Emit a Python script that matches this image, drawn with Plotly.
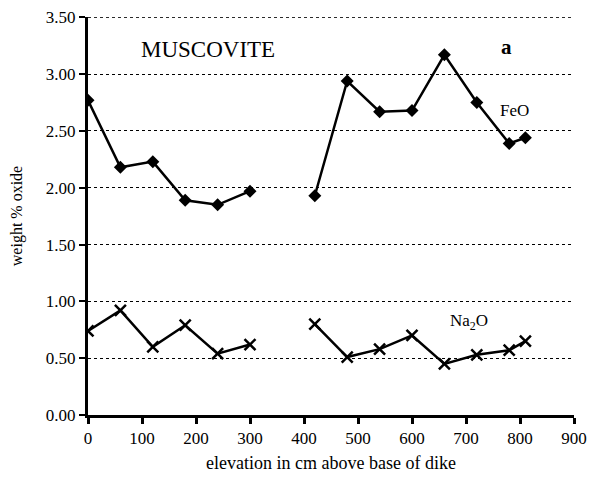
import plotly.graph_objects as go

elevation = [0, 60, 120, 180, 240, 300, None, 420, 480, 540, 600, 660, 720, 780, 810]
feo = [2.77, 2.18, 2.23, 1.89, 1.85, 1.97, None, 1.93, 2.94, 2.67, 2.68, 3.17, 2.75, 2.39, 2.44]
na2o = [0.74, 0.92, 0.60, 0.79, 0.54, 0.62, None, 0.80, 0.51, 0.58, 0.70, 0.45, 0.53, 0.57, 0.65]
x_ticks = [0, 100, 200, 300, 400, 500, 600, 700, 800, 900]
y_ticks = [0.0, 0.5, 1.0, 1.5, 2.0, 2.5, 3.0, 3.5]

FONT = "Liberation Serif"

fig = go.Figure()
fig.add_trace(go.Scatter(
    x=elevation, y=feo, mode="lines+markers", name="FeO",
    line=dict(color="black", width=2.5),
    marker=dict(symbol="diamond", size=10, color="black"),
    connectgaps=False,
))
fig.add_trace(go.Scatter(
    x=elevation, y=na2o, mode="lines+markers", name="Na2O",
    line=dict(color="black", width=2.5),
    marker=dict(symbol="x-thin", size=11, line=dict(color="black", width=2.5)),
    connectgaps=False,
))

# top gridline (at the last y tick, on the plot edge)
fig.add_shape(type="line", xref="paper", yref="y", x0=0, x1=1,
              y0=y_ticks[-1], y1=y_ticks[-1],
              line=dict(color="black", width=1, dash="dot"), layer="below")

fig.update_layout(
    width=591, height=472,
    margin=dict(l=80, r=25, t=9, b=65, autoexpand=False),
    paper_bgcolor="white", plot_bgcolor="white",
    showlegend=False,
    font=dict(family=FONT, size=17, color="black"),
    xaxis=dict(
        range=[0, 900], tickvals=x_ticks, ticktext=[str(v) for v in x_ticks],
        showgrid=False, zeroline=False, automargin=False,
        showline=True, linecolor="black", linewidth=3,
        ticks="outside", ticklen=6, tickwidth=3, tickcolor="black",
        tickfont=dict(family=FONT, size=17),
        title=dict(text="elevation in cm above base of dike",
                   font=dict(family=FONT, size=18), standoff=9),
    ),
    yaxis=dict(
        range=[0, 3.503], tickvals=y_ticks, ticktext=[f"{v:.2f}" for v in y_ticks],
        showgrid=True, gridcolor="black", gridwidth=1, griddash="dot",
        zeroline=False, automargin=False,
        showline=True, linecolor="black", linewidth=3,
        ticks="outside", ticklen=6, tickwidth=2, tickcolor="black",
        tickfont=dict(family=FONT, size=17),
        title=dict(text="weight % oxide", font=dict(family=FONT, size=16), standoff=20),
    ),
    annotations=[
        dict(x=222, y=3.22, xref="x", yref="y", text="MUSCOVITE", showarrow=False,
             font=dict(family=FONT, size=23)),
        dict(x=775, y=3.24, xref="x", yref="y", text="<b>a</b>", showarrow=False,
             font=dict(family=FONT, size=21)),
        dict(x=790, y=2.68, xref="x", yref="y", text="FeO", showarrow=False,
             font=dict(family=FONT, size=17)),
        dict(x=705, y=0.82, xref="x", yref="y", text="Na<sub>2</sub>O", showarrow=False,
             font=dict(family=FONT, size=17)),
    ],
)

fig.write_html("out.html")
